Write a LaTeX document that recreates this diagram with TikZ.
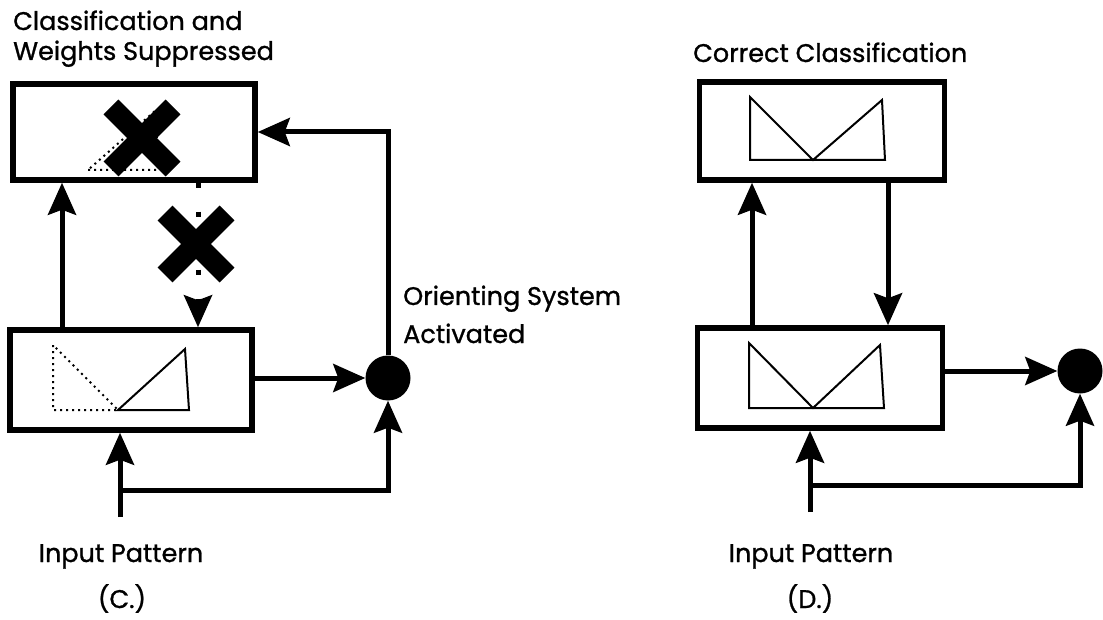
\documentclass[tikz,border=0pt]{standalone}
\usepackage{fontspec}
\setmainfont{Poppins}[FakeBold=1]
\usetikzlibrary{arrows.meta,positioning,calc}

\begin{document}
\begin{tikzpicture}[x=1pt,y=-1pt,
  box/.style={draw,line width=5.5pt,inner sep=0pt},
  conn/.style={line width=5pt,-{Stealth[length=32pt,width=28pt,inset=5pt]}},
  figline/.style={line width=2pt,line join=miter},
  ghost/.style={line width=2pt,dash pattern=on 2pt off 4pt},
  xmark/.style={line width=21pt},
  sysdot/.style={circle,fill,inner sep=0pt,minimum size=45pt},
  txt/.style={anchor=base west,inner sep=0pt,font=\fontsize{25.5}{30}\selectfont},
  ctxt/.style={txt,anchor=base}]
  \useasboundingbox (0,0) rectangle (1103,620);

  % (C.) classification suppressed
  \node[box,minimum width=242pt,minimum height=96pt] (ctop) at (134,132) {};
  \node[box,minimum width=242pt,minimum height=100pt] (cbot) at (131,380) {};
  \node[sysdot] (ccirc) at (388,378) {};

  \node[txt] (ctitle) at (13,30) {Classification and};
  \node[txt] (ctitleb) at (13,60) {Weights Suppressed};
  \node[txt] (corient) at (403,305) {Orienting System};
  \node[txt] (corientb) at (403,343) {Activated};
  \node[ctxt] (cinput) at (121,562) {Input Pattern};
  \node[ctxt] (ccap) at (122,608) {(C.)};

  \draw[ghost] (88,170) -- (158,170) -- (156,110) -- cycle;
  \draw[ghost] (53,345) -- (53,410) -- (118,410) -- cycle;
  \draw[figline] (118,410) -- (185,349) -- (189,410) -- cycle;

  \coordinate (cup) at (62,0);
  \coordinate (cdown) at (198,0);
  \coordinate (cin) at (120,517);
  \coordinate (cfork) at (120,490);
  \draw[conn] (cbot.north -| cup) -- (ctop.south -| cup);
  \draw[conn,dash pattern=on 5pt off 24pt] (ctop.south -| cdown) -- (cbot.north -| cdown);
  \draw[conn] (ccirc.north) |- (ctop.east);
  \draw[conn] (cbot.east |- ccirc) -- (ccirc.west);
  \draw[conn] (cin) -- (cbot.south -| cin);
  \draw[conn] (cfork) -| (ccirc.south);

  \coordinate (xtop) at (142,138);
  \coordinate (xmid) at (196,244);
  \draw[xmark] ($(xtop)+(-31,-31)$) -- ($(xtop)+(31,31)$);
  \draw[xmark] ($(xtop)+(-31,31)$) -- ($(xtop)+(31,-31)$);
  \draw[xmark] ($(xmid)+(-31,-31)$) -- ($(xmid)+(31,31)$);
  \draw[xmark] ($(xmid)+(-31,31)$) -- ($(xmid)+(31,-31)$);

  % (D.) correct classification
  \node[box,minimum width=245pt,minimum height=98pt] (dtop) at (822,131) {};
  \node[box,minimum width=245pt,minimum height=100pt] (dbot) at (820,378) {};
  \node[sysdot] (dcirc) at (1080,371) {};

  \node[txt] (dtitle) at (693,62) {Correct Classification};
  \node[ctxt] (dinput) at (811,562) {Input Pattern};
  \node[ctxt] (dcap) at (810,608) {(D.)};

  \draw[figline] (750,97) -- (750,160) -- (885,160) -- (882,100) -- (813,160) -- cycle;
  \draw[figline] (749,343) -- (749,408) -- (884,408) -- (880,345) -- (813,408) -- cycle;

  \coordinate (dup) at (752,0);
  \coordinate (ddown) at (888,0);
  \coordinate (din) at (810,512);
  \coordinate (dfork) at (810,485);
  \draw[conn] (dbot.north -| dup) -- (dtop.south -| dup);
  \draw[conn] (dtop.south -| ddown) -- (dbot.north -| ddown);
  \draw[conn] (dbot.east |- dcirc) -- (dcirc.west);
  \draw[conn] (din) -- (dbot.south -| din);
  \draw[conn] (dfork) -| (dcirc.south);
\end{tikzpicture}
\end{document}
